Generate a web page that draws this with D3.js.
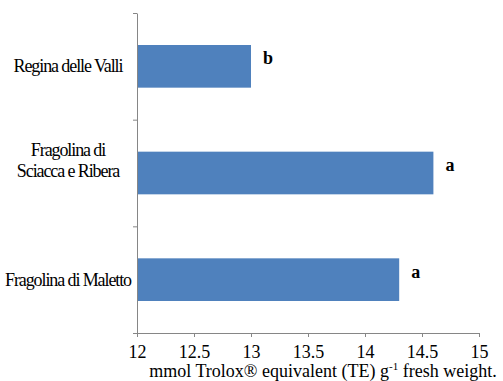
<!DOCTYPE html>
<html>
<head>
<meta charset="utf-8">
<script src="https://cdn.jsdelivr.net/npm/d3@7"></script>
<style>
  body { margin: 0; background: #fff; }
</style>
</head>
<body>
<svg class="bar-chart" width="503" height="381"></svg>
<script>
// data
const cultivars = [
    ['Regina delle Valli'],
    ['Fragolina di', 'Sciacca e Ribera'],
    ['Fragolina di Maletto']
];
const values = [13.0, 14.6, 14.3];
const letters = ['b', 'a', 'a'];
const xTicks = [12, 12.5, 13, 13.5, 14, 14.5, 15];

const serif = "'Liberation Serif'";

const bar = d3.select('.bar-chart');

const margin = { left: 137, top: 13, right: 24, bottom: 48 };
const barWidth = +bar.attr('width') - margin.left - margin.right;
const barHeight = +bar.attr('height') - margin.top - margin.bottom;

const x = d3.scaleLinear()
    .domain([12, 15])
    .range([0, barWidth]);

const y = d3.scaleBand()
    .domain(d3.range(cultivars.length))
    .range([0, barHeight])
    .paddingInner(0.6)
    .paddingOuter(0.3);

// category boundaries for the y ticks
const yEdge = d3.scaleLinear()
    .domain([0, cultivars.length])
    .range([0, barHeight]);

const g = bar.append('g')
    .attr('transform', `translate(${margin.left} ${margin.top})`);

g.selectAll('rect')
    .data(values)
    .enter()
    .append('rect')
    .attr('x', 0)
    .attr('y', (d, i) => y(i))
    .attr('width', d => x(d))
    .attr('height', y.bandwidth())
    .attr('fill', '#4F81BD');

const xAxisG = g.append('g')
    .attr('transform', `translate(0, ${barHeight})`)
    .call(d3.axisBottom(x)
        .tickValues(xTicks)
        .tickFormat(d3.format('~g'))
        .tickSizeInner(4)
        .tickSizeOuter(0)
        .tickPadding(8));

xAxisG.selectAll('.domain, line').attr('stroke', '#868686');
xAxisG.selectAll('text')
    .style('font-family', serif)
    .style('font-size', '18px')
    .attr('fill', '#000');

const yAxisG = g.append('g')
    .call(d3.axisLeft(yEdge)
        .tickValues(d3.range(cultivars.length + 1))
        .tickFormat('')
        .tickSizeInner(4)
        .tickSizeOuter(0));

yAxisG.selectAll('.domain, line').attr('stroke', '#868686');

// category labels (narrow, like the original)
const labels = g.selectAll('.cat')
    .data(cultivars)
    .enter()
    .append('text')
    .attr('class', 'cat')
    .attr('text-anchor', 'middle')
    .style('font-family', serif)
    .style('font-size', '18px')
    .style('letter-spacing', '-1.1px')
    .attr('y', (d, i) => y(i) + y.bandwidth() / 2);

labels.selectAll('tspan')
    .data(d => d.map((line, j) => ({ line, j, n: d.length })))
    .enter()
    .append('tspan')
    .attr('x', -69)
    .attr('dy', d => d.n === 1 ? 6 : (d.j === 0 ? -17 : 21))
    .text(d => d.line);

// significance letters
g.selectAll('.sig')
    .data(values)
    .enter()
    .append('text')
    .attr('class', 'sig')
    .attr('x', d => x(d) + 12)
    .attr('y', (d, i) => y(i) + y.bandwidth() / 2 - 2)
    .style('font-family', serif)
    .style('font-size', '18px')
    .style('font-weight', 'bold')
    .text((d, i) => letters[i]);

// axis title
const title = bar.append('text')
    .attr('x', 323)
    .attr('y', 377)
    .attr('text-anchor', 'middle')
    .style('font-family', serif)
    .style('font-size', '18px');

title.append('tspan').text('mmol Trolox® equivalent (TE) g');
title.append('tspan').style('font-size', '11px').attr('dy', -7).text('-1');
title.append('tspan').attr('dy', 7).text(' fresh weight.');
</script>
</body>
</html>
